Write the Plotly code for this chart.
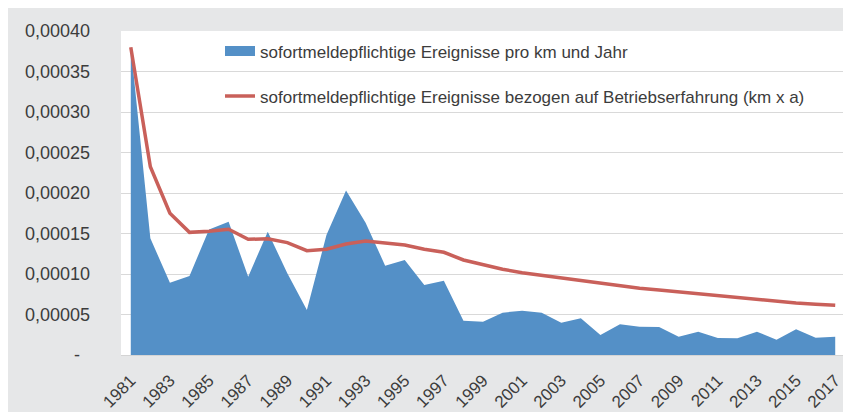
import plotly.graph_objects as go

years = list(range(1981, 2018))

events_per_km_year = [
    0.000381, 0.000144, 0.0000893, 0.0000975, 0.000155, 0.0001646, 0.0000967,
    0.0001523, 0.0001008, 0.0000556, 0.000148, 0.000203, 0.0001634, 0.0001103,
    0.0001173, 0.0000864, 0.0000918, 0.0000424, 0.0000411, 0.0000523, 0.0000547,
    0.0000523, 0.0000399, 0.0000453, 0.0000247, 0.0000379, 0.000035, 0.0000346,
    0.0000226, 0.0000288, 0.000021, 0.0000206, 0.0000288, 0.0000189, 0.0000317,
    0.0000214, 0.0000226,
]

events_per_experience = [
    0.000380, 0.0002325, 0.000175, 0.0001514, 0.0001527, 0.0001552, 0.0001428,
    0.0001436, 0.0001387, 0.0001288, 0.0001305, 0.000137, 0.0001407, 0.0001379,
    0.0001358, 0.0001305, 0.0001268, 0.0001173, 0.0001111, 0.0001058, 0.0001016,
    0.0000984, 0.0000942, 0.0000914, 0.000088, 0.0000848, 0.0000823, 0.0000802,
    0.0000778, 0.0000753, 0.0000728, 0.0000708, 0.0000683, 0.0000663, 0.0000642,
    0.0000626, 0.0000613,
]

y_tick_values = [0, 0.00005, 0.0001, 0.00015, 0.0002, 0.00025, 0.0003, 0.00035, 0.0004]
y_tick_labels = ["-\u00a0\u00a0", "0,00005", "0,00010", "0,00015", "0,00020",
                 "0,00025", "0,00030", "0,00035", "0,00040"]
x_tick_values = list(range(1981, 2018, 2))
x_tick_labels = [str(y) for y in x_tick_values]

name_area = "sofortmeldepflichtige Ereignisse pro km und Jahr"
name_line = "sofortmeldepflichtige Ereignisse bezogen auf Betriebserfahrung (km x a)"

BLUE = "#5490c7"
RED = "#c9605a"
TXT = "#3c3c3c"
FONT = "Liberation Sans, Arial, sans-serif"

fig = go.Figure()
fig.add_trace(go.Scatter(
    x=years, y=events_per_km_year, mode="lines", fill="tozeroy",
    fillcolor=BLUE, line=dict(width=0, color=BLUE), showlegend=False,
    hoverinfo="x+y",
))
# legend entry for the area (thick swatch)
fig.add_trace(go.Scatter(
    x=[None], y=[None], mode="lines", name=name_area,
    line=dict(width=10, color=BLUE), legend="legend",
))
fig.add_trace(go.Scatter(
    x=years, y=events_per_experience, mode="lines", name=name_line,
    line=dict(width=3.5, color=RED), legend="legend2",
))

# figure is placed by the page with an 8px body margin
PLOT_L, PLOT_R, PLOT_T, PLOT_B = 113, 837, 23, 347
W, H = 851, 404
ph = PLOT_B - PLOT_T
pw = PLOT_R - PLOT_L

def py(pix):
    return 1 - (pix - PLOT_T) / ph

def px(pix):
    return (pix - PLOT_L) / pw

fig.update_layout(
    width=W, height=H,
    margin=dict(l=PLOT_L, r=W - PLOT_R, t=PLOT_T, b=H - PLOT_B, pad=0,
                autoexpand=False),
    paper_bgcolor="#e6e7e8",
    plot_bgcolor="#ffffff",
    font=dict(family=FONT, size=17, color=TXT),
    legend=dict(x=px(212), y=py(43.5), xanchor="left", yanchor="middle",
                bgcolor="rgba(0,0,0,0)", font=dict(size=17, color=TXT),
                itemwidth=30),
    legend2=dict(x=px(212), y=py(88.5), xanchor="left", yanchor="middle",
                 bgcolor="rgba(0,0,0,0)", font=dict(size=17, color=TXT),
                 itemwidth=30),
    xaxis=dict(
        range=[1980.5, 2017.5], tickmode="array", tickvals=x_tick_values,
        ticktext=x_tick_labels, tickangle=-45, showgrid=False,
        showline=True, linecolor="#d4d4d4", linewidth=1, ticks="",
        ticklabelstandoff=8, tickfont=dict(size=17, color=TXT),
        zeroline=False, fixedrange=True, automargin=False,
    ),
    yaxis=dict(
        range=[0, 0.0004], tickmode="array", tickvals=y_tick_values,
        ticktext=y_tick_labels, showgrid=True, gridcolor="#d9d9d9",
        gridwidth=1, zeroline=False, showline=False, ticks="",
        ticklabelstandoff=30, tickfont=dict(size=18, color=TXT),
        fixedrange=True, automargin=False,
    ),
)

fig.write_html("out.html")
